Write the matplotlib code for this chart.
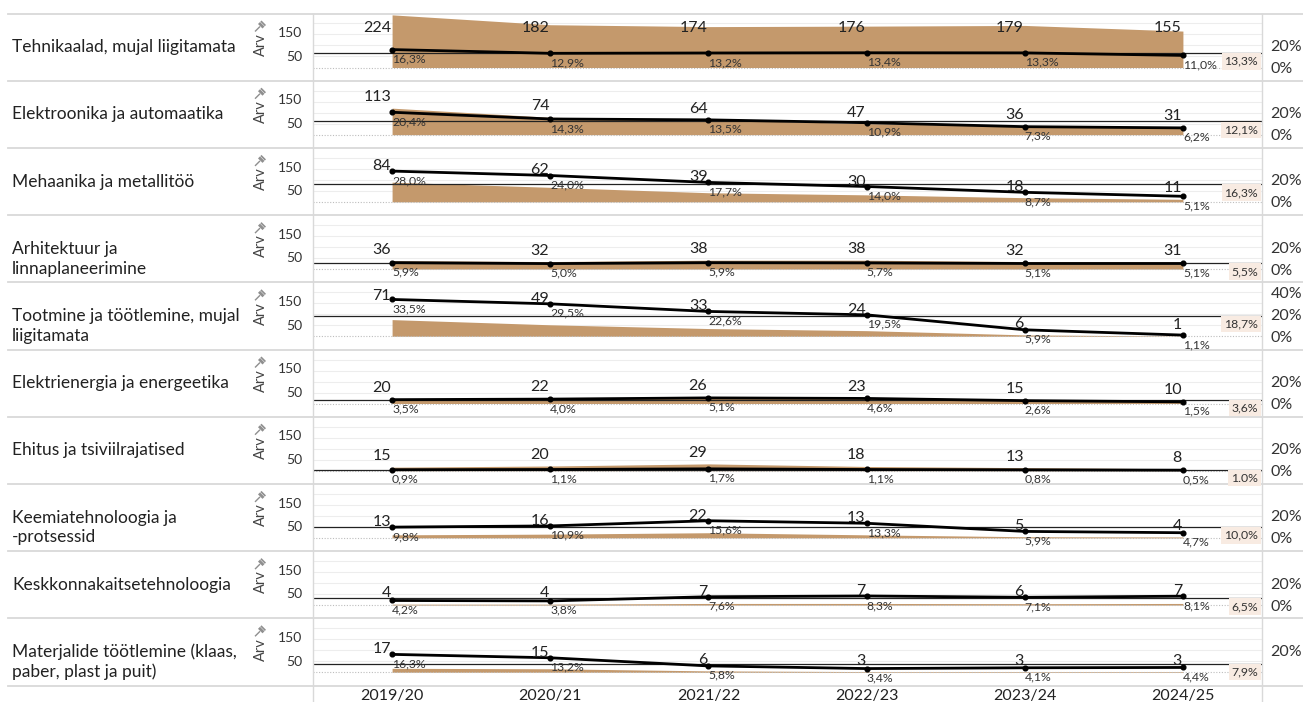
import matplotlib
matplotlib.use("Agg")
import matplotlib.pyplot as plt
from matplotlib.lines import Line2D
from matplotlib.patches import Polygon

plt.rcParams["font.family"] = ["Lato", "DejaVu Sans"]

years = ["2019/20", "2020/21", "2021/22", "2022/23", "2023/24", "2024/25"]

fields = [
    "Tehnikaalad, mujal liigitamata",
    "Elektroonika ja automaatika",
    "Mehaanika ja metallitöö",
    "Arhitektuur ja\nlinnaplaneerimine",
    "Tootmine ja töötlemine, mujal\nliigitamata",
    "Elektrienergia ja energeetika",
    "Ehitus ja tsiviilrajatised",
    "Keemiatehnoloogia ja\n-protsessid",
    "Keskkonnakaitsetehnoloogia",
    "Materjalide töötlemine (klaas,\npaber, plast ja puit)",
]

# number of students (Arv) per field and year
counts = [
    [224, 182, 174, 176, 179, 155],
    [113, 74, 64, 47, 36, 31],
    [84, 62, 39, 30, 18, 11],
    [36, 32, 38, 38, 32, 31],
    [71, 49, 33, 24, 6, 1],
    [20, 22, 26, 23, 15, 10],
    [15, 20, 29, 18, 13, 8],
    [13, 16, 22, 13, 5, 4],
    [4, 4, 7, 7, 6, 7],
    [17, 15, 6, 3, 3, 3],
]

# share (%) per field and year
shares = [
    [16.3, 12.9, 13.2, 13.4, 13.3, 11.0],
    [20.4, 14.3, 13.5, 10.9, 7.3, 6.2],
    [28.0, 24.0, 17.7, 14.0, 8.7, 5.1],
    [5.9, 5.0, 5.9, 5.7, 5.1, 5.1],
    [33.5, 29.5, 22.6, 19.5, 5.9, 1.1],
    [3.5, 4.0, 5.1, 4.6, 2.6, 1.5],
    [0.9, 1.1, 1.7, 1.1, 0.8, 0.5],
    [9.8, 10.9, 15.6, 13.3, 5.9, 4.7],
    [4.2, 3.8, 7.6, 8.3, 7.1, 8.1],
    [16.3, 13.2, 5.8, 3.4, 4.1, 4.4],
]

# average share reference line per field
ref_shares = [13.3, 12.1, 16.3, 5.5, 18.7, 3.6, 1.0, 10.0, 6.5, 7.9]
ref_labels = ["13,3%", "12,1%", "16,3%", "5,5%", "18,7%", "3,6%", "1.0%", "10,0%", "6,5%", "7,9%"]

count_ticks = [50, 150]
pct_ticks = [[0, 20], [0, 20], [0, 20], [0, 20], [0, 20, 40],
             [0, 20], [0, 20], [0, 20], [0, 20], [20]]
pct_grid = [10, 20, 30, 40]

W, H = 1303, 702
DPI = 100
AREA = "#C4996C"
TXT = "#333333"
GRIDC = "#d9d9d9"

fig = plt.figure(figsize=(W / DPI, H / DPI), dpi=DPI)
fig.patch.set_facecolor("white")

pane_l, pane_r = 313, 1262
top0 = 13.5
row_h = 67.2
zero_off = 54.0          # px from row top to the zero baseline
px_per_count = 0.235
px_per_pct = 1.1


def fx(x):
    return x / W


def fy(y):
    return 1 - y / H


def hline(x0, x1, y, **kw):
    fig.add_artist(Line2D([fx(x0), fx(x1)], [fy(y), fy(y)], transform=fig.transFigure, **kw))


def vline(x, y0, y1, **kw):
    fig.add_artist(Line2D([fx(x), fx(x)], [fy(y0), fy(y1)], transform=fig.transFigure, **kw))


def to_px(ax, x, y):
    dx, dy = ax.transData.transform((x, y))
    return dx, H - dy


def draw_pin(x, y):
    # small grey thumbtack: head up-right, needle down-left
    c = "#8f8f8f"
    head = [(x + 1.0, y - 5.5), (x + 5.5, y - 1.0), (x + 3.5, y + 1.0), (x - 1.0, y - 3.5)]
    fig.add_artist(Polygon([(fx(a), fy(b)) for a, b in head], closed=True,
                           transform=fig.transFigure, fc=c, ec="none"))
    cap = [(x + 2.5, y - 7.0), (x + 7.0, y - 2.5), (x + 5.8, y - 1.3), (x + 1.3, y - 5.8)]
    fig.add_artist(Polygon([(fx(a), fy(b)) for a, b in cap], closed=True,
                           transform=fig.transFigure, fc=c, ec="none"))
    fig.add_artist(Line2D([fx(x + 0.5), fx(x - 3.5)], [fy(y - 0.5), fy(y + 3.5)],
                          transform=fig.transFigure, color=c, lw=1.0))


xs = list(range(len(years)))
axes = []
for i, name in enumerate(fields):
    rt = top0 + row_h * i
    ax = fig.add_axes([fx(pane_l), fy(rt + row_h), (pane_r - pane_l) / W, row_h / H])
    ax.set_xlim(-0.5, len(years) - 0.5)
    ax.set_ylim(-(row_h - zero_off) / px_per_count, zero_off / px_per_count)
    ax2 = ax.twinx()
    ax2.set_ylim(-(row_h - zero_off) / px_per_pct, zero_off / px_per_pct)
    for a in (ax, ax2):
        a.patch.set_visible(False)
        for s in a.spines.values():
            s.set_visible(False)
    ax.set_xticks([])
    ax.set_yticks(count_ticks)
    ax.set_yticklabels([str(t) for t in count_ticks])
    ax.tick_params(axis="y", length=0, pad=8, labelsize=10, labelcolor=TXT)
    ax2.set_yticks(pct_ticks[i])
    ax2.set_yticklabels([f"{t}%" for t in pct_ticks[i]])
    ax2.tick_params(axis="y", length=0, pad=6, labelsize=11.5, labelcolor=TXT)

    # faint share grid, drawn on the count axis so it stays under the area
    for g in pct_grid:
        ax.axhline(g * px_per_pct / px_per_count, color="#ededed", lw=0.8, zorder=0)

    ax.fill_between(xs, 0, counts[i], color=AREA, lw=0, zorder=1)
    ax2.axhline(0, color="#bdbdbd", lw=0.8, ls=(0, (1, 1.5)), zorder=2)
    ax2.axhline(ref_shares[i], color="#222222", lw=0.9, zorder=3)
    ax2.plot(xs, shares[i], color="black", lw=2.0, marker="o", ms=3.4, zorder=4)

    # value labels
    for x, c, p in zip(xs, counts[i], shares[i]):
        px, a_top = to_px(ax, x, c)
        _, l_y = to_px(ax2, x, p)
        yc = max(min(a_top - 11, l_y - 5), rt + 14)
        fig.text(fx(px - 1), fy(yc), str(c), ha="right", va="center",
                 fontsize=11.5, color="#222222")
        fig.text(fx(px), fy(l_y + 4), f"{p:.1f}".replace(".", ",") + "%",
                 ha="left", va="top", fontsize=8.8, color=TXT)

    # reference value box
    _, r_y = to_px(ax2, 0, ref_shares[i])
    fig.text(fx(pane_r - 4), fy(r_y + 3), ref_labels[i], ha="right", va="top",
             fontsize=8.8, color=TXT,
             bbox=dict(boxstyle="square,pad=0.22", fc="#F8EBE2", ec="none"))

    # field name
    n_lines = name.count("\n") + 1
    cy = rt + row_h / 2 + (10 if n_lines > 1 else 0)
    fig.text(fx(12), fy(cy), name, ha="left", va="center", fontsize=12.5,
             color="#222222", linespacing=1.3)

    # axis title with pin icon
    fig.text(fx(261), fy(rt + 31), "Arv", rotation=90, ha="center", va="center",
             fontsize=10.5, color="#444444")
    draw_pin(259, rt + 14)
    axes.append(ax)

# row separators and frame lines
for i in range(len(fields) + 1):
    hline(8, W, top0 + row_h * i, color=GRIDC, lw=1.3)
vline(pane_l, top0, H, color=GRIDC, lw=1.0)
vline(pane_r, top0, H, color=GRIDC, lw=1.0)

# year labels along the bottom
last = axes[-1]
for x, yr in zip(xs, years):
    px, _ = to_px(last, x, 0)
    fig.text(fx(px), fy(689), yr, ha="center", va="top", fontsize=11.5, color="#222222")

fig.savefig("out.png", dpi=DPI)
